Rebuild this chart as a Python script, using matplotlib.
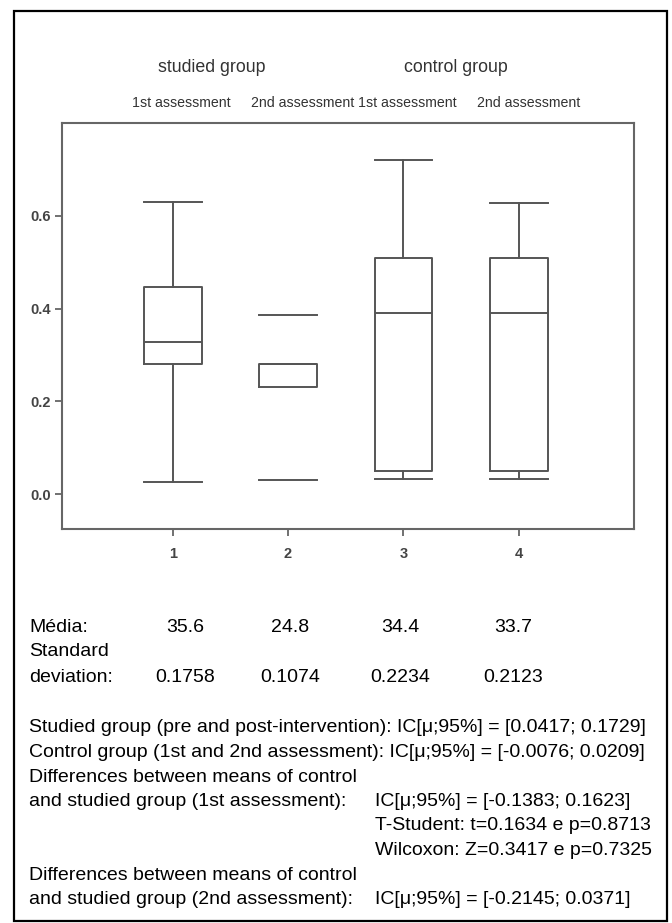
import matplotlib
matplotlib.use("Agg")
import matplotlib.pyplot as plt
from matplotlib import font_manager
from matplotlib.patches import Rectangle

# box statistics
positions = [1, 2, 3, 4]
whislo = [0.026, 0.030, 0.032, 0.032]
q1 = [0.280, 0.230, 0.049, 0.049]
med = [0.327, 0.280, 0.390, 0.390]
q3 = [0.447, 0.280, 0.510, 0.510]
whishi = [0.630, 0.387, 0.720, 0.628]

group_labels = ["studied group", "control group"]
sub_labels = ["1st assessment", "2nd assessment", "1st assessment", "2nd assessment"]

means = ["35.6", "24.8", "34.4", "33.7"]
sds = ["0.1758", "0.1074", "0.2234", "0.2123"]

notes_full = [
    "Studied group (pre and post-intervention): IC[\u03bc;95%] = [0.0417; 0.1729]",
    "Control group (1st and 2nd assessment): IC[\u03bc;95%] = [-0.0076; 0.0209]",
    "Differences between means of control",
]
notes_first = [
    ("and studied group (1st assessment):", "IC[\u03bc;95%] = [-0.1383; 0.1623]"),
    ("", "T-Student: t=0.1634 e p=0.8713"),
    ("", "Wilcoxon: Z=0.3417 e p=0.7325"),
]
notes_second = [
    ("Differences between means of control", ""),
    ("and studied group (2nd assessment):", "IC[\u03bc;95%] = [-0.2145; 0.0371]"),
]

# condensed font for the chart if we have it
try:
    font_manager.findfont("Liberation Sans Narrow", fallback_to_default=False)
    chart_font = "Liberation Sans Narrow"
    scale = 1.2
except ValueError:
    chart_font = "Liberation Sans"
    scale = 1.0
body_font = "Liberation Sans"

W, H = 672, 923
fig = plt.figure(figsize=(W / 100, H / 100), dpi=100)


def fx(px):
    return px / W


def fy(py):
    return 1 - py / H


# outer frame
fig.patches.append(Rectangle((fx(14), fy(921)), fx(667) - fx(14), fy(11) - fy(921),
                             transform=fig.transFigure, fill=False,
                             edgecolor="black", linewidth=1.6))

ax = fig.add_axes([fx(62), fy(529), fx(634) - fx(62), fy(123) - fy(529)])

stats = []
for i in range(4):
    stats.append(dict(whislo=whislo[i], q1=q1[i], med=med[i], q3=q3[i],
                      whishi=whishi[i], fliers=[]))

lc = "#555555"
bp = ax.bxp(stats, positions=positions, widths=0.5, showfliers=False,
            boxprops=dict(color=lc, linewidth=1.4),
            whiskerprops=dict(color=lc, linewidth=1.4),
            capprops=dict(color=lc, linewidth=1.4),
            medianprops=dict(color=lc, linewidth=1.4),
            capwidths=0.5)
# second box shows its caps only, no whisker lines
bp["whiskers"][2].set_visible(False)
bp["whiskers"][3].set_visible(False)

ax.set_xlim(0.04, 5.0)
ax.set_ylim(-0.075, 0.80)
ax.set_xticks(positions)
ax.set_xticklabels([str(p) for p in positions])
ax.set_yticks([0.0, 0.2, 0.4, 0.6])
ax.set_yticklabels(["0.0", "0.2", "0.4", "0.6"])
for s in ax.spines.values():
    s.set_color("#666666")
    s.set_linewidth(1.5)
ax.tick_params(colors="#666666", length=5, width=1.3, pad=3)
for lab in ax.get_xticklabels() + ax.get_yticklabels():
    lab.set_fontfamily(chart_font)
    lab.set_fontsize(10.5 * scale)
    lab.set_fontweight("bold")
    lab.set_color("#444444")
ax.tick_params(axis="x", pad=8)

# headers above the plot
for lab, x in zip(group_labels, [212, 456]):
    fig.text(fx(x), fy(68), lab, ha="center", va="center",
             family=chart_font, fontsize=12.8 * scale, color="#333333")
for lab, x in zip(sub_labels, [181, 303, 407, 529]):
    fig.text(fx(x), fy(103), lab, ha="center", va="center",
             family=chart_font, fontsize=10.2 * scale, color="#333333")

# stats table
bs = 14
col_x = [185, 290, 400, 513]
fig.text(fx(29), fy(627), "M\u00e9dia:", va="center", family=body_font, fontsize=bs)
fig.text(fx(29), fy(652), "Standard", va="center", family=body_font, fontsize=bs)
fig.text(fx(29), fy(677), "deviation:", va="center", family=body_font, fontsize=bs)
for x, m, s in zip(col_x, means, sds):
    fig.text(fx(x), fy(627), m, ha="center", va="center", family=body_font, fontsize=bs)
    fig.text(fx(x), fy(677), s, ha="center", va="center", family=body_font, fontsize=bs)

y = 728
for line in notes_full:
    fig.text(fx(29), fy(y), line, va="center", family=body_font, fontsize=bs)
    y += 24.5
for left, right in notes_first + notes_second:
    if left:
        fig.text(fx(29), fy(y), left, va="center", family=body_font, fontsize=bs)
    if right:
        fig.text(fx(375), fy(y), right, va="center", family=body_font, fontsize=bs)
    y += 24.5

fig.savefig("out.png", dpi=100)
